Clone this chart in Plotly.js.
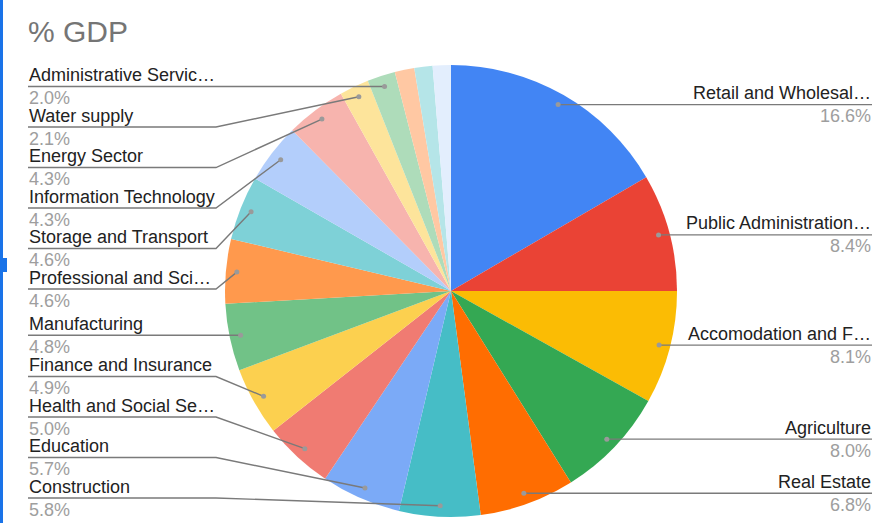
<!DOCTYPE html>
<html>
<head>
<meta charset="utf-8">
<script src="https://cdn.plot.ly/plotly-3.0.1.min.js"></script>
<style>html,body{margin:0;padding:0;background:#fff;}#chart{width:873px;height:523px;}</style>
</head>
<body>
<div id="chart"></div>
<script>
// ---- data ----
const categories = [
  "Retail and Wholesal\u2026",
  "Public Administration\u2026",
  "Accomodation and F\u2026",
  "Agriculture",
  "Real Estate",
  "Construction",
  "Education",
  "Health and Social Se\u2026",
  "Finance and Insurance",
  "Manufacturing",
  "Professional and Sci\u2026",
  "Storage and Transport",
  "Information Technology",
  "Energy Sector",
  "Water supply",
  "Administrative Servic\u2026",
  "Other (a)",
  "Other (b)",
  "Other (c)"
];
const values = [16.6, 8.4, 8.1, 8.0, 6.8, 5.8, 5.7, 5.0, 4.9, 4.8, 4.6, 4.6, 4.3, 4.3, 2.1, 2.0, 1.4, 1.3, 1.3];
const colors = [
  "#4285F4", "#EA4335", "#FBBC04", "#34A853", "#FF6D01", "#46BDC6",
  "#7BAAF7", "#F07B72", "#FCD04F", "#71C287", "#FF994D", "#7ED1D7",
  "#B3CEFB", "#F7B4AE", "#FDE49B", "#AEDCBA", "#FFC8A3", "#B5E5E8", "#E3EEFD"
];
const chartTitle = "% GDP";

// ---- layout geometry ----
const W = 873, H = 523;
const cx = 451, cy = 291, R = 226, dotR = 215;
const leftX = 28, rightX = 872, bendX = 216;
const labelGap = 40.5, labelMaxY = 498;
const minLabelValue = 1.5;
const fontFam = "Liberation Sans, Arial, sans-serif";

const px = x => x / W;
const py = y => 1 - y / H;

const total = values.reduce((a, b) => a + b, 0);
let cum = 0;
const items = values.map((v, i) => {
  const th = (cum + v / 2) / total * 2 * Math.PI;
  cum += v;
  return {
    i, v, name: categories[i],
    dx: cx + dotR * Math.sin(th),
    dy: cy - dotR * Math.cos(th),
    right: th < Math.PI,
    show: v >= minLabelValue
  };
}).filter(d => d.show);

const rightItems = items.filter(d => d.right).sort((a, b) => a.dy - b.dy);
const leftItems = items.filter(d => !d.right).sort((a, b) => a.dy - b.dy);

function place(arr) {
  arr.forEach((d, k) => { d.ly = k === 0 ? d.dy : Math.max(d.dy, arr[k - 1].ly + labelGap); });
  for (let k = arr.length - 1; k >= 0; k--) {
    const lim = k === arr.length - 1 ? labelMaxY : arr[k + 1].ly - labelGap;
    arr[k].ly = Math.min(arr[k].ly, lim);
  }
}
place(rightItems);
place(leftItems);

const shapes = [];
const annotations = [];
const lineColor = "#7a7a7a";

items.forEach(d => {
  let path;
  if (d.right) {
    path = `M ${px(d.dx)} ${py(d.dy)} L ${px(rightX)} ${py(d.ly)}`;
  } else {
    path = `M ${px(leftX)} ${py(d.ly)} L ${px(bendX)} ${py(d.ly)} L ${px(d.dx)} ${py(d.dy)}`;
    if (Math.abs(d.ly - d.dy) < 1) path = `M ${px(leftX)} ${py(d.ly)} L ${px(d.dx)} ${py(d.dy)}`;
  }
  shapes.push({type: "path", xref: "paper", yref: "paper", path: path,
    line: {color: lineColor, width: 1.4}});
  shapes.push({type: "circle", xref: "paper", yref: "paper",
    x0: px(d.dx - 2.5), x1: px(d.dx + 2.5), y0: py(d.dy + 2.5), y1: py(d.dy - 2.5),
    fillcolor: "#9a9a9a", line: {width: 0}});
  const ax = d.right ? px(rightX) : px(leftX);
  const anchor = d.right ? "right" : "left";
  annotations.push({xref: "paper", yref: "paper", x: ax, y: py(d.ly - 11.5),
    xanchor: anchor, yanchor: "middle", showarrow: false, text: d.name,
    font: {family: fontFam, size: 18, color: "#222222"}, borderpad: 0});
  annotations.push({xref: "paper", yref: "paper", x: ax, y: py(d.ly + 11.5),
    xanchor: anchor, yanchor: "middle", showarrow: false, text: d.v.toFixed(1) + "%",
    font: {family: fontFam, size: 18, color: "#9e9e9e"}, borderpad: 0});
});

// left selection border
shapes.push({type: "rect", xref: "paper", yref: "paper", x0: 0, x1: px(3), y0: 0, y1: 1,
  fillcolor: "#1a73e8", line: {width: 0}, layer: "above"});
shapes.push({type: "rect", xref: "paper", yref: "paper", x0: 0, x1: px(7), y0: py(272), y1: py(258),
  fillcolor: "#1a73e8", line: {width: 0}, layer: "above"});

const trace = {
  type: "pie",
  labels: categories,
  values: values,
  sort: false,
  direction: "clockwise",
  rotation: 0,
  textinfo: "none",
  hoverinfo: "label+percent",
  marker: {colors: colors, line: {width: 0}},
  domain: {x: [px(cx - R), px(cx + R)], y: [py(cy + R), py(cy - R)]},
  showlegend: false
};

const layout = {
  width: W, height: H,
  margin: {l: 0, r: 0, t: 0, b: 0},
  paper_bgcolor: "#ffffff",
  showlegend: false,
  title: {text: chartTitle, xref: "container", yref: "container", x: px(28), xanchor: "left",
    y: 1 - 31 / H, yanchor: "middle", font: {family: fontFam, size: 30, color: "#757575"}},
  shapes: shapes,
  annotations: annotations
};

Plotly.newPlot("chart", [trace], layout, {displayModeBar: false, staticPlot: true});
</script>
</body>
</html>
